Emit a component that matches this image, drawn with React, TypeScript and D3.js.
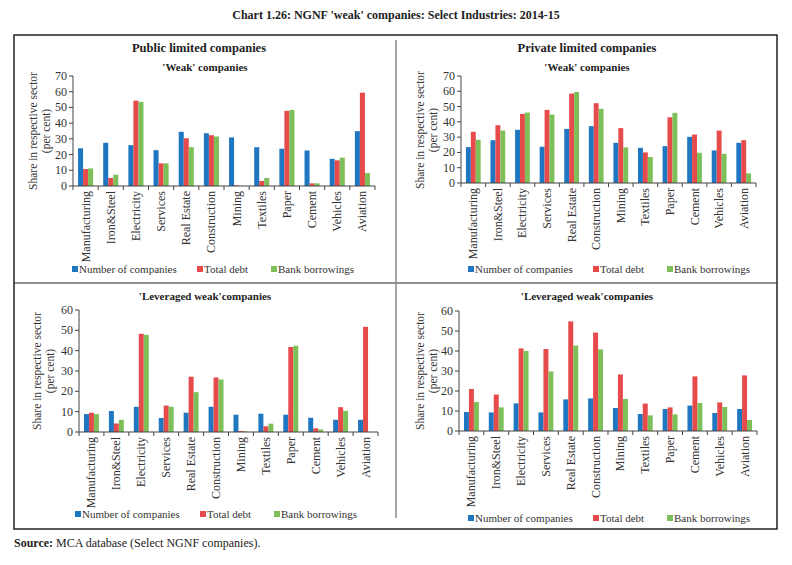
import React from "react";
import { scaleBand, scaleLinear, range } from "d3";

const categories = [
  "Manufacturing",
  "Iron&Steel",
  "Electricity",
  "Services",
  "Real Estate",
  "Construction",
  "Mining",
  "Textiles",
  "Paper",
  "Cement",
  "Vehicles",
  "Aviation",
];

const seriesNames = ["Number of companies", "Total debt", "Bank borrowings"];

// Public limited companies - 'Weak'
const pubWeakNum = [24, 27.5, 26, 22.8, 34.5, 33.6, 30.9, 24.7, 23.7, 22.6, 17.3, 34.9];
const pubWeakDebt = [10.8, 5.1, 54.3, 14.4, 30.4, 32.3, 0.4, 3.2, 47.8, 1.7, 16.3, 59.4];
const pubWeakBank = [11.2, 7.2, 53.5, 14.4, 24.7, 31.5, 0, 5.1, 48.4, 1.7, 18, 8.2];

// Private limited companies - 'Weak'
const privWeakNum = [23.5, 28, 34.8, 23.7, 35.4, 37.2, 26.3, 23, 24.1, 30.2, 21.3, 26.3];
const privWeakDebt = [33.5, 37.8, 45.2, 47.8, 58.5, 52.2, 35.9, 20, 43, 31.7, 34.3, 28];
const privWeakBank = [28.3, 34.3, 46.1, 44.8, 59.6, 48.5, 23.3, 17, 45.9, 19.8, 19.1, 6.3];

// Public limited companies - 'Leveraged weak'
const pubLevNum = [8.8, 10.3, 12.4, 6.9, 9.5, 12.4, 8.5, 9, 8.5, 7, 6, 6];
const pubLevDebt = [9.5, 4.2, 48.3, 13, 27.2, 26.8, 0.5, 2.8, 41.8, 1.8, 12.2, 51.7];
const pubLevBank = [8.8, 6, 47.8, 12.4, 19.6, 25.8, 0.3, 4.1, 42.4, 1.3, 10.4, 0];

// Private limited companies - 'Leveraged weak'
const privLevNum = [9.5, 9.3, 13.8, 9.3, 15.8, 16.3, 11.5, 8.5, 11, 12.7, 9, 11];
const privLevDebt = [21, 18.2, 41.3, 41, 54.8, 49.2, 28.3, 13.7, 11.8, 27.3, 14.3, 27.8];
const privLevBank = [14.5, 11.8, 40, 29.8, 42.7, 40.8, 16, 7.8, 8.3, 14, 12, 5.5];

const colors = ["#1f77c2", "#e64a4b", "#7dc05a"];
const FONT = "'Liberation Serif', 'DejaVu Serif', serif";

type PanelProps = {
  series: number[][];
  subtitle: string;
  subtitleX: number;
  subtitleY: number;
  x0: number;
  x1: number;
  yTop: number;
  yBottom: number;
  yMax: number;
  titleX: number;
  titleY: number;
  legendX: number;
  legendY: number;
};

function Panel(p: PanelProps) {
  const x = scaleBand<string>().domain(categories).range([p.x0, p.x1]).paddingInner(0.4).paddingOuter(0.2);
  const xs = scaleBand<number>().domain([0, 1, 2]).range([0, x.bandwidth()]);
  const y = scaleLinear().domain([0, p.yMax]).range([p.yBottom, p.yTop]);
  const ticks = range(0, p.yMax + 1, 10);
  const step = x.step();

  return (
    <g>
      <text x={p.subtitleX} y={p.subtitleY} textAnchor="middle" fontSize={11} fontWeight="bold" fill="#222">
        {p.subtitle}
      </text>
      {/* y axis title */}
      <g transform={`translate(${p.titleX}, ${p.titleY}) rotate(-90)`} fontSize={11.5} fill="#333">
        <text x={0} y={0} textAnchor="middle" dominantBaseline="central">
          Share in respective sector
        </text>
        <text x={0} y={13} textAnchor="middle" dominantBaseline="central">
          (per cent)
        </text>
      </g>

      {/* bars */}
      {p.series.map((vals, si) =>
        vals.map((v, ci) => (
          <rect
            key={`${si}-${ci}`}
            x={(x(categories[ci]) ?? 0) + (xs(si) ?? 0)}
            y={y(v)}
            width={xs.bandwidth()}
            height={p.yBottom - y(v)}
            fill={colors[si]}
          />
        ))
      )}

      {/* y axis */}
      <line x1={p.x0} x2={p.x0} y1={p.yTop} y2={p.yBottom} stroke="#444" />
      {ticks.map((t) => (
        <g key={t}>
          <line x1={p.x0 - 4} x2={p.x0} y1={y(t)} y2={y(t)} stroke="#444" />
          <text x={p.x0 - 6} y={y(t)} textAnchor="end" dominantBaseline="central" fontSize={12} fill="#333">
            {t}
          </text>
        </g>
      ))}

      {/* x axis */}
      <line x1={p.x0} x2={p.x1} y1={p.yBottom} y2={p.yBottom} stroke="#444" />
      {range(categories.length + 1).map((i) => (
        <line
          key={i}
          x1={p.x0 + i * step}
          x2={p.x0 + i * step}
          y1={p.yBottom}
          y2={p.yBottom + 4}
          stroke="#444"
        />
      ))}
      {categories.map((c) => {
        const cx = (x(c) ?? 0) + x.bandwidth() / 2;
        const cy = p.yBottom + 5;
        return (
          <text
            key={c}
            transform={`translate(${cx}, ${cy}) rotate(-90)`}
            textAnchor="end"
            dominantBaseline="central"
            fontSize={12}
            fill="#333"
          >
            {c}
          </text>
        );
      })}

      {/* legend */}
      {seriesNames.map((s, i) => {
        const lx = p.legendX + [0, 125, 199][i];
        return (
          <g key={s}>
            <rect x={lx} y={p.legendY - 3} width={6} height={6} fill={colors[i]} />
            <text x={lx + 7} y={p.legendY} dominantBaseline="central" fontSize={11} fill="#333">
              {s}
            </text>
          </g>
        );
      })}
    </g>
  );
}

export default function App() {
  return (
    <div style={{ position: "absolute", left: 0, top: 0 }}>
      <svg width={792} height={565} style={{ display: "block", fontFamily: FONT, background: "#fff" }}>
        <text x={396} y={19} textAnchor="middle" fontSize={12} fontWeight="bold" fill="#222">
          Chart 1.26: NGNF 'weak' companies: Select Industries: 2014-15
        </text>
        <rect x={14} y={35} width={763} height={494} fill="none" stroke="#222" strokeWidth={1.5} />
        <line x1={14} x2={777} y1={283} y2={283} stroke="#222" strokeWidth={1} />
        <line x1={396} x2={396} y1={40} y2={518} stroke="#888" strokeWidth={1.5} />

        <text x={199} y={52} textAnchor="middle" fontSize={12.5} fontWeight="bold" fill="#222">
          Public limited companies
        </text>
        <text x={587} y={52} textAnchor="middle" fontSize={12.5} fontWeight="bold" fill="#222">
          Private limited companies
        </text>

        <Panel
          series={[pubWeakNum, pubWeakDebt, pubWeakBank]}
          subtitle="'Weak' companies"
          subtitleX={205}
          subtitleY={71}
          x0={73}
          x1={375}
          yTop={76}
          yBottom={186}
          yMax={70}
          titleX={33}
          titleY={131}
          legendX={72}
          legendY={269}
        />
        <Panel
          series={[privWeakNum, privWeakDebt, privWeakBank]}
          subtitle="'Weak' companies"
          subtitleX={587}
          subtitleY={71}
          x0={461}
          x1={756}
          yTop={76}
          yBottom={183}
          yMax={70}
          titleX={420}
          titleY={130}
          legendX={468}
          legendY={269}
        />
        <Panel
          series={[pubLevNum, pubLevDebt, pubLevBank]}
          subtitle="'Leveraged weak'companies"
          subtitleX={205}
          subtitleY={300}
          x0={79}
          x1={378}
          yTop={310}
          yBottom={432}
          yMax={60}
          titleX={37}
          titleY={371}
          legendX={75}
          legendY={514}
        />
        <Panel
          series={[privLevNum, privLevDebt, privLevBank]}
          subtitle="'Leveraged weak'companies"
          subtitleX={587}
          subtitleY={300}
          x0={459}
          x1={757}
          yTop={311}
          yBottom={431}
          yMax={60}
          titleX={420}
          titleY={371}
          legendX={468}
          legendY={518}
        />

        <text x={14} y={547} fontSize={12} fill="#222">
          <tspan fontWeight="bold">Source:</tspan> MCA database (Select NGNF companies).
        </text>
      </svg>
    </div>
  );
}
